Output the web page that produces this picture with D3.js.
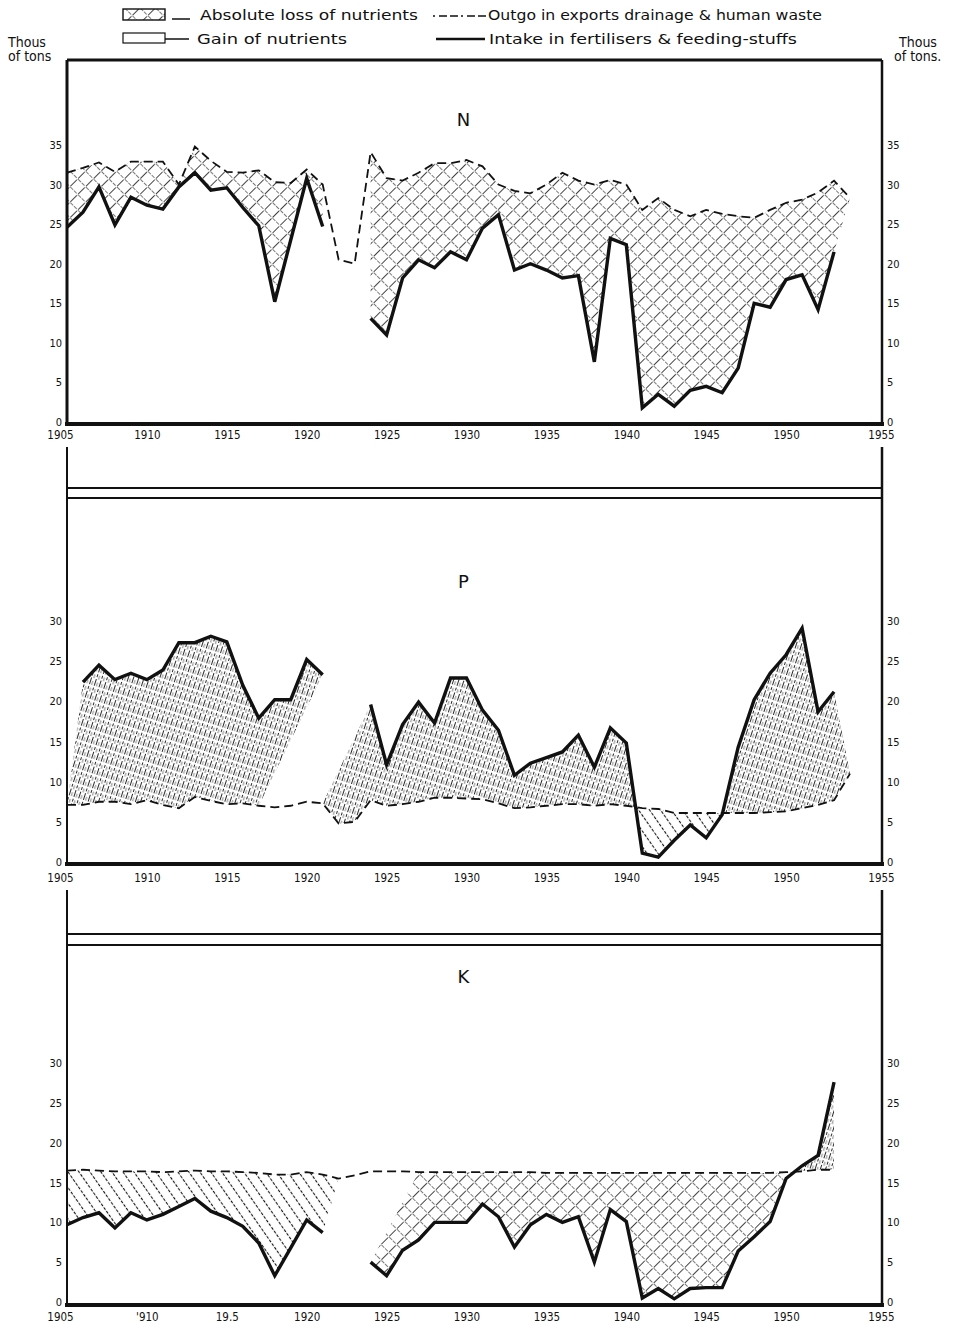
<!DOCTYPE html>
<html><head><meta charset="utf-8">
<script src="https://cdn.jsdelivr.net/npm/d3@7"></script>
<style>
body{margin:0;background:#fff}
svg{display:block}
text{font-family:"DejaVu Sans Condensed","Liberation Sans Narrow","DejaVu Sans",Arial,sans-serif;fill:#111}
</style>
</head><body>
<svg id="chart" width="966" height="1329"></svg>
<script>
// ---------- DATA ----------
const years = [1905,1906,1907,1908,1909,1910,1911,1912,1913,1914,1915,1916,1917,1918,1919,1920,1921,1922,1923,1924,
  1925,1926,1927,1928,1929,1930,1931,1932,1933,1934,1935,1936,1937,1938,1939,1940,1941,1942,1943,1944,
  1945,1946,1947,1948,1949,1950,1951,1952,1953,1954];

// N (thousand tons)
const nOutgo = [31.5,32.1,32.8,31.6,32.9,32.9,32.9,30.0,34.8,33.0,31.6,31.5,31.8,30.3,30.2,31.9,30.0,20.5,20.0,34.1,
  30.8,30.5,31.5,32.7,32.7,33.1,32.3,30.0,29.2,28.9,30.0,31.5,30.5,30.0,30.6,30.0,26.8,28.3,26.8,26.0,
  26.8,26.3,26.0,25.8,26.8,27.7,28.1,29.0,30.5,28.3];
const nIntake = [24.6,26.5,29.7,24.9,28.4,27.4,26.9,29.7,31.5,29.3,29.6,27.1,24.8,15.2,23.0,30.8,24.7,null,null,13.1,
  11.0,18.2,20.5,19.5,21.5,20.5,24.5,26.2,19.2,20.0,19.2,18.2,18.5,7.6,23.2,22.4,1.8,3.5,2.0,4.0,
  4.5,3.7,6.8,15.0,14.5,18.0,18.6,14.2,21.5];

// P
const pOutgo = [7.1,7.1,7.5,7.5,7.2,7.7,7.1,6.7,8.1,7.6,7.2,7.3,7.0,6.8,7.0,7.5,7.3,4.8,5.0,7.7,
  7.0,7.2,7.5,8.0,8.0,7.9,7.8,7.3,6.7,6.8,7.0,7.2,7.2,7.0,7.2,7.0,6.7,6.6,6.1,6.1,
  6.1,6.1,6.1,6.1,6.2,6.3,6.7,7.1,7.7,11.0];
const pIntake = [null,22.4,24.5,22.7,23.5,22.7,23.9,27.3,27.3,28.1,27.4,22.0,17.9,20.2,20.2,25.2,23.3,null,null,19.6,
  12.1,17.1,19.9,17.3,22.9,22.9,18.9,16.4,10.8,12.3,13.0,13.7,15.8,11.8,16.7,14.8,1.1,0.6,2.7,4.6,
  3.0,5.9,14.3,20.2,23.5,25.8,29.1,18.7,21.2];

// K
const kOutgo = [16.5,16.6,16.5,16.4,16.4,16.4,16.3,16.4,16.5,16.4,16.4,16.3,16.2,16.0,16.0,16.3,16.0,15.5,15.9,16.4,
  16.4,16.4,16.3,16.3,16.3,16.3,16.3,16.3,16.3,16.3,16.2,16.2,16.2,16.2,16.2,16.2,16.2,16.2,16.2,16.2,
  16.2,16.2,16.2,16.2,16.2,16.3,16.4,16.6,16.6];
const kIntake = [9.7,10.6,11.2,9.3,11.2,10.3,11.0,12.0,13.0,11.4,10.6,9.5,7.4,3.3,6.8,10.3,8.7,null,null,5.0,
  3.3,6.5,7.8,10.0,10.0,10.0,12.3,10.7,6.9,9.7,11.0,10.0,10.7,5.0,11.6,10.1,0.5,1.7,0.4,1.7,
  1.8,1.8,6.4,8.2,10.1,15.5,17.1,18.4,27.6];

// shaded segments: [outgo from, outgo to, intake from, intake to, loss pattern]
const nSegments = [[1905,1921,1905,1921,"cross"],[1924,1954,1924,1953,"cross"]];
const pSegments = [[1905,1917,1906,1921,"dotdiag"],[1921,1954,1924,1953,"dotdiag"]];
const kSegments = [[1905,1922,1905,1921,"dotdiag"],[1927,1953,1924,1953,"cross"]];

const yearTicks = [1905,1910,1915,1920,1925,1930,1935,1940,1945,1950,1955];
const nTickLabels = ["1905","1910","1915","1920","1925","1930","1935","1940","1945","1950","1955"];
const pTickLabels = ["1905","1910","1915","1920","1925","1930","1935","1940","1945","1950","1955"];
const kTickLabels = ["1905","'910","19.5","1920","1925","1930","1935","1940","1945","1950","1955"];
const nValueTicks = [0,5,10,15,20,25,30,35];
const pkValueTicks = [0,5,10,15,20,25,30];

const legendLoss = "Absolute loss of nutrients";
const legendGain = "Gain of nutrients";
const legendOutgo = "Outgo in exports drainage & human waste";
const legendIntake = "Intake in fertilisers & feeding-stuffs";

// ---------- DRAWING ----------
const svg = d3.select("#chart");
const X0 = 67, X1 = 882;
const x = d3.scaleLinear().domain([1905,1956]).range([X0,X1]);

const defs = svg.append("defs");
// crosshatch
const cross = defs.append("pattern").attr("id","cross").attr("patternUnits","userSpaceOnUse")
  .attr("width",11).attr("height",11).attr("patternTransform","rotate(45)");
cross.append("line").attr("x1",5.5).attr("y1",0).attr("x2",5.5).attr("y2",11)
  .attr("stroke","#111").attr("stroke-width",0.8).attr("stroke-dasharray","5,1.5");
cross.append("line").attr("x1",0).attr("y1",5.5).attr("x2",11).attr("y2",5.5)
  .attr("stroke","#222").attr("stroke-width",0.6).attr("stroke-dasharray","4,2");
// gain: steep dense strokes
const gain = defs.append("pattern").attr("id","gain").attr("patternUnits","userSpaceOnUse")
  .attr("width",5).attr("height",14).attr("patternTransform","rotate(18)");
gain.append("line").attr("x1",1.5).attr("y1",0).attr("x2",1.5).attr("y2",14)
  .attr("stroke","#111").attr("stroke-width",0.9).attr("stroke-dasharray","7,2,3,2");
gain.append("line").attr("x1",3.8).attr("y1",3).attr("x2",3.8).attr("y2",14)
  .attr("stroke","#333").attr("stroke-width",0.6).attr("stroke-dasharray","4,3");
// dotted diagonal
const dd = defs.append("pattern").attr("id","dotdiag").attr("patternUnits","userSpaceOnUse")
  .attr("width",9).attr("height",9).attr("patternTransform","rotate(-35)");
dd.append("line").attr("x1",4.5).attr("y1",0).attr("x2",4.5).attr("y2",9)
  .attr("stroke","#111").attr("stroke-width",1.1).attr("stroke-dasharray","3,1.5");

const panels = [
  {name:"N", outgo:nOutgo, intake:nIntake, segs:nSegments, ticks:nValueTicks, labels:nTickLabels,
   y0:422, yTopVal:35, yTop:145, frameTop:60, bottom:424, labelY:442, letterY:126, double:null},
  {name:"P", outgo:pOutgo, intake:pIntake, segs:pSegments, ticks:pkValueTicks, labels:pTickLabels,
   y0:862, yTopVal:30, yTop:621, frameTop:447, bottom:864, labelY:885, letterY:588, double:[488,498]},
  {name:"K", outgo:kOutgo, intake:kIntake, segs:kSegments, ticks:pkValueTicks, labels:kTickLabels,
   y0:1302, yTopVal:30, yTop:1063, frameTop:890, bottom:1305, labelY:1324, letterY:983, double:[934,945]}
];

panels.forEach((p,pi) => {
  const y = d3.scaleLinear().domain([0,p.yTopVal]).range([p.y0,p.yTop]);
  const g = svg.append("g");
  const oPts = p.outgo.map((v,i)=>({year:years[i], v}));
  const iPts = p.intake.map((v,i)=>({year:years[i], v}));

  // clip regions above / below the outgo line
  const above = d3.area().x(d=>x(d.year)).y0(0).y1(d=>y(d.v));
  const below = d3.area().x(d=>x(d.year)).y0(1329).y1(d=>y(d.v));
  defs.append("clipPath").attr("id","above"+pi).append("path").attr("d",above(oPts));
  defs.append("clipPath").attr("id","below"+pi).append("path").attr("d",below(oPts));

  const poly = d3.line().x(d=>x(d.year)).y(d=>y(d.v));
  p.segs.forEach(s => {
    const oSeg = oPts.filter(d=>d.year>=s[0] && d.year<=s[1]);
    const iSeg = iPts.filter(d=>d.year>=s[2] && d.year<=s[3] && d.v!=null).reverse();
    const dpath = poly(oSeg.concat(iSeg)) + "Z";
    g.append("path").attr("d",dpath).attr("fill","url(#gain)").attr("clip-path","url(#above"+pi+")");
    g.append("path").attr("d",dpath).attr("fill","url(#"+s[4]+")").attr("clip-path","url(#below"+pi+")");
  });

  // lines
  const ln = d3.line().defined(d=>d.v!=null).x(d=>x(d.year)).y(d=>y(d.v));
  g.append("path").attr("d",ln(oPts)).attr("fill","none").attr("stroke","#111")
    .attr("stroke-width",1.8).attr("stroke-dasharray","9,5");
  g.append("path").attr("d",ln(iPts)).attr("fill","none").attr("stroke","#111")
    .attr("stroke-width",3.4).attr("stroke-linejoin","miter");

  // frame
  const fr = svg.append("g").attr("stroke","#111").attr("fill","none");
  if (p.double) {
    fr.append("line").attr("x1",X0).attr("x2",X1).attr("y1",p.double[0]).attr("y2",p.double[0]).attr("stroke-width",2.2);
    fr.append("line").attr("x1",X0).attr("x2",X1).attr("y1",p.double[1]).attr("y2",p.double[1]).attr("stroke-width",2.2);
  } else {
    fr.append("line").attr("x1",X0).attr("x2",X1).attr("y1",p.frameTop).attr("y2",p.frameTop).attr("stroke-width",3);
  }
  fr.append("line").attr("x1",X0).attr("x2",X0).attr("y1",p.frameTop).attr("y2",p.bottom).attr("stroke-width",p.double?2:3);
  fr.append("line").attr("x1",X1).attr("x2",X1).attr("y1",p.frameTop).attr("y2",p.bottom).attr("stroke-width",2.5);
  fr.append("line").attr("x1",X0-2).attr("x2",X1+2).attr("y1",p.bottom).attr("y2",p.bottom).attr("stroke-width",4);

  // y axes left and right
  const yl = svg.append("g").attr("transform",`translate(${X0},0)`)
    .call(d3.axisLeft(y).tickValues(p.ticks).tickSize(0).tickPadding(5));
  const yr = svg.append("g").attr("transform",`translate(${X1},0)`)
    .call(d3.axisRight(y).tickValues(p.ticks).tickSize(0).tickPadding(5));
  [yl,yr].forEach(a=>{a.select(".domain").remove(); a.selectAll("text").attr("font-size",11).attr("font-family",null);});

  // x axis labels
  const xa = svg.append("g").attr("transform",`translate(0,${p.labelY-11})`)
    .call(d3.axisBottom(x).tickValues(yearTicks).tickSize(0).tickPadding(0)
      .tickFormat((d,i)=>p.labels[i]));
  xa.select(".domain").remove();
  xa.selectAll("text").attr("font-size",11.5).attr("font-family",null)
    .attr("dx",(d)=> d===1905 ? -7 : (d===1955 ? 15 : 0));

  // panel letter
  svg.append("text").attr("x",x(1930)-3).attr("y",p.letterY).attr("text-anchor","middle")
    .attr("font-size",18).style("font-family","'DejaVu Sans',sans-serif").text(p.name);
});

// ---------- LEGEND & UNITS ----------
const lg = svg.append("g");
lg.append("rect").attr("x",123).attr("y",9).attr("width",42).attr("height",11)
  .attr("fill","url(#cross)").attr("stroke","#111").attr("stroke-width",1.4);
lg.append("line").attr("x1",172).attr("x2",190).attr("y1",19).attr("y2",19).attr("stroke","#111").attr("stroke-width",1.5);
lg.append("text").attr("x",200).attr("y",20).attr("font-size",14.5).attr("textLength",218)
  .attr("lengthAdjust","spacingAndGlyphs").text(legendLoss);
lg.append("line").attr("x1",433).attr("x2",486).attr("y1",16).attr("y2",16).attr("stroke","#111")
  .attr("stroke-width",1.6).attr("stroke-dasharray","2,4,8,3,8,3");
lg.append("text").attr("x",488).attr("y",20).attr("font-size",14.5).attr("textLength",334)
  .attr("lengthAdjust","spacingAndGlyphs").text(legendOutgo);

lg.append("rect").attr("x",123).attr("y",33).attr("width",42).attr("height",10)
  .attr("fill","none").attr("stroke","#111").attr("stroke-width",1.2);
lg.append("line").attr("x1",165).attr("x2",189).attr("y1",39).attr("y2",39).attr("stroke","#111").attr("stroke-width",1.5);
lg.append("text").attr("x",197).attr("y",44).attr("font-size",14.5).attr("textLength",150)
  .attr("lengthAdjust","spacingAndGlyphs").text(legendGain);
lg.append("line").attr("x1",436).attr("x2",485).attr("y1",39).attr("y2",39).attr("stroke","#111").attr("stroke-width",2.6);
lg.append("text").attr("x",489).attr("y",44).attr("font-size",14.5).attr("textLength",308)
  .attr("lengthAdjust","spacingAndGlyphs").text(legendIntake);

lg.append("text").attr("x",8).attr("y",47).attr("font-size",14).text("Thous");
lg.append("text").attr("x",8).attr("y",61).attr("font-size",14).text("of tons");
lg.append("text").attr("x",899).attr("y",47).attr("font-size",14).text("Thous");
lg.append("text").attr("x",894).attr("y",61).attr("font-size",14).text("of tons.");
</script>
</body></html>
